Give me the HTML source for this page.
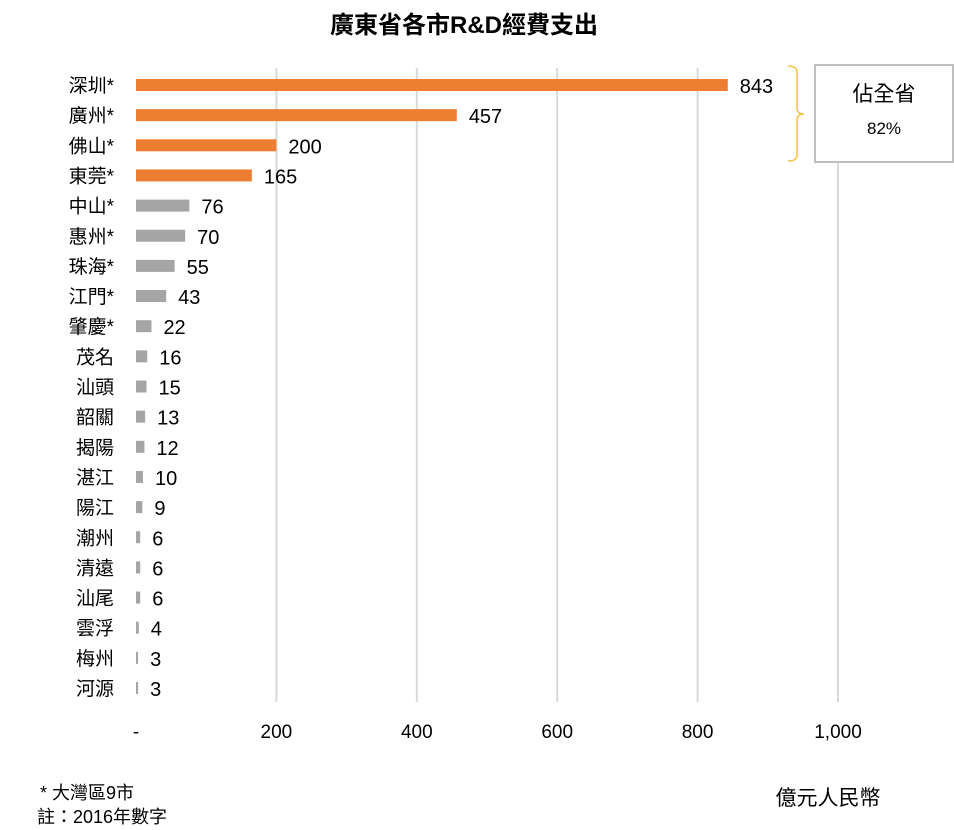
<!DOCTYPE html>
<html><head><meta charset="utf-8"><style>
body{margin:0;background:#fff;}
svg{display:block;font-family:"Liberation Sans","Noto Sans CJK TC",sans-serif;}
</style></head><body>
<svg id="chart" width="954" height="830" viewBox="0 0 954 830">
<text x="464" y="33" text-anchor="middle" font-size="24" font-weight="bold" fill="#000">廣東省各市R&amp;D經費支出</text>
<g id="grid"></g><g id="bars"></g><g id="labels"></g><g id="xticks"></g>
<path d="M788,66 Q797,66 797,72 L797,108 Q797,114 804,114 Q797,114 797,120 L797,155 Q797,161 788,161" fill="none" stroke="#f5c242" stroke-width="1.5"/>
<rect x="815" y="65" width="138" height="97" fill="#fff" stroke="#bfbfbf" stroke-width="2"/>
<text x="884" y="101" text-anchor="middle" font-size="21" fill="#000">佔全省</text>
<text x="884" y="134" text-anchor="middle" font-size="17" fill="#000">82%</text>
<text x="40" y="799" font-size="18" fill="#000">* 大灣區9市</text>
<text x="37" y="823" font-size="18" fill="#000">註：2016年數字</text>
<text x="828" y="805" text-anchor="middle" font-size="21" fill="#000">億元人民幣</text>
</svg>
<script>
const categories=["深圳*","廣州*","佛山*","東莞*","中山*","惠州*","珠海*","江門*","肇慶*","茂名","汕頭","韶關","揭陽","湛江","陽江","潮州","清遠","汕尾","雲浮","梅州","河源"];
const values=[843,457,200,165,76,70,55,43,22,16,15,13,12,10,9,6,6,6,4,3,3];
const highlight=[1,1,1,1,0,0,0,0,0,0,0,0,0,0,0,0,0,0,0,0,0];
const ticks=[0,200,400,600,800,1000];
const tickLabels=["-","200","400","600","800","1,000"];
const NS="http://www.w3.org/2000/svg";
const x=v=>136+v*0.702;
const y=i=>85+i*30.15;
function mk(t,a,p){const e=document.createElementNS(NS,t);for(const k in a)e.setAttribute(k,a[k]);p.appendChild(e);return e;}
const grid=document.getElementById('grid'),bars=document.getElementById('bars'),labels=document.getElementById('labels'),xt=document.getElementById('xticks');
ticks.forEach((t,i)=>{
 if(t>0){const l=mk('line',{x1:x(t),x2:x(t),y1:68,y2:702,stroke:'#d9d9d9','stroke-width':2},grid);
 
 }
 const tx=mk('text',{x:x(t),y:738,'text-anchor':'middle','font-size':19,fill:'#000'},xt);
 tx.textContent=tickLabels[i];
 
 
});
categories.forEach((c,i)=>{
 const r=mk('rect',{x:136,y:y(i)-6,width:Math.max(1.5,x(values[i])-136),height:12,fill:highlight[i]?'#ed7d31':'#a5a5a5'},bars);
 
 
 const cl=mk('text',{x:114,y:y(i)+7,'text-anchor':'end','font-size':19,fill:'#000'},labels);
 cl.textContent=c;
 
 
 const vl=mk('text',{x:x(values[i])+12,y:y(i)+8,'font-size':20,fill:'#000'},labels);
 vl.textContent=values[i];
 
 
});
</script>
</body></html>
